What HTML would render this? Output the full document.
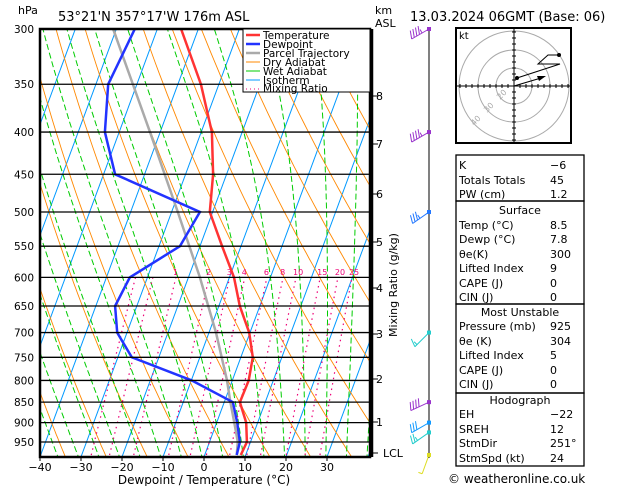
<!DOCTYPE html>
<html><head><meta charset="utf-8"><style>
body{margin:0;background:#fff;}
svg text{font-family:"DejaVu Sans","Liberation Sans",sans-serif;}
</style></head><body>
<svg id="c" width="629" height="486" viewBox="0 0 629 486" xmlns="http://www.w3.org/2000/svg">
<defs><clipPath id="clip"><rect x="40" y="29" width="330" height="428"/></clipPath></defs>
<g id="bg" clip-path="url(#clip)"></g>
<g id="prof" clip-path="url(#clip)"></g>
<g id="ax"></g>
<text x="18" y="14" font-size="11">hPa</text>
<text x="58" y="21" font-size="13">53°21'N  357°17'W  176m  ASL</text>
<text x="375" y="14" font-size="11">km</text>
<text x="375" y="27" font-size="11">ASL</text>
<text x="410" y="21" font-size="13">13.03.2024  06GMT  (Base: 06)</text>
<g>
<rect x="243" y="29" width="127" height="63" fill="#fff" stroke="#000"/>
<g font-size="10.5">
<line x1="246" y1="35" x2="260" y2="35" stroke="#f33" stroke-width="2.5"/><text x="263" y="39">Temperature</text>
<line x1="246" y1="44" x2="260" y2="44" stroke="#23f" stroke-width="2.5"/><text x="263" y="48">Dewpoint</text>
<line x1="246" y1="53" x2="260" y2="53" stroke="#aaa" stroke-width="2.5"/><text x="263" y="57">Parcel Trajectory</text>
<line x1="246" y1="62" x2="260" y2="62" stroke="#f80" stroke-width="1"/><text x="263" y="66">Dry Adiabat</text>
<line x1="246" y1="71" x2="260" y2="71" stroke="#0c0" stroke-width="1"/><text x="263" y="75">Wet Adiabat</text>
<line x1="246" y1="80" x2="260" y2="80" stroke="#09f" stroke-width="1"/><text x="263" y="84">Isotherm</text>
<line x1="246" y1="89" x2="260" y2="89" stroke="#e07" stroke-width="1" stroke-dasharray="1,3"/><text x="263" y="92">Mixing Ratio</text>
</g></g>
<g id="right"></g>
<g id="wind"></g>
<g id="hodo"></g>
<g id="tbl" font-size="11"></g>
<text x="448" y="483" font-size="12">© weatheronline.co.uk</text>
</svg>
<script>
const pressures=[300,350,400,450,500,550,600,650,700,750,800,850,900,950,985];
const tempC=[-44.2,-34.4,-27.4,-23.3,-20.7,-14.6,-8.9,-4.9,-0.2,2.9,4.0,3.8,7.2,9.1,8.8];
const dewC=[-55.5,-57,-53.5,-47.2,-23.1,-24.9,-34.3,-35.3,-32.4,-26.6,-9.9,2.1,5.0,7.4,7.8];
const parcelP=[300,400,500,600,700,800,850,900,950,985];
const parcelC=[-60.8,-42.5,-28.5,-17.2,-8.3,-1.3,1.5,4.3,6.9,7.8];
const tempTicks=[-40,-30,-20,-10,0,10,20,30];
const pTicks=[300,350,400,450,500,550,600,650,700,750,800,850,900,950];
const mixRatios=[0.4,0.6,1,2,3,4,6,8,10,15,20,25];
const mixLabels=["","","1","2","3","4","6","8","10","15","20","25"];
const kmVals=["8","7","6","5","4","3","2","1","LCL"];
const kmY=[96,144,194,242,288,334,379,422,453];
const windP=[300,400,500,700,850,900,925,985];
const windSpd=[45,45,35,15,40,30,25,5];
const windDir=[240,240,235,225,245,240,235,200];
const windCol=["#93c","#93c","#27f","#2cc","#93c","#19f","#2cc","#dd2"];
const NS='http://www.w3.org/2000/svg';
function mk(tag,attrs,parent){const e=document.createElementNS(NS,tag);for(const k in attrs)e.setAttribute(k,attrs[k]);parent.appendChild(e);return e;}
const yP=p=>29+358.3*Math.log(p/300);
const xT=(T,p)=>204+4.1*T+0.37*(457-yP(p));
const bg=document.getElementById('bg'),prof=document.getElementById('prof'),ax=document.getElementById('ax');
function poly(pts,attrs,parent,name){const e=mk('polyline',Object.assign({points:pts.map(q=>q[0].toFixed(1)+','+q[1].toFixed(1)).join(' '),fill:'none'},attrs),parent);

return e;}
for(let T=-120;T<=40;T+=10){poly([[xT(T,1000),yP(1000)],[xT(T,250),yP(250)]],{stroke:'#09f','stroke-width':1},bg,'isotherm');}
for(let th=230;th<=500;th+=10){const pts=[];for(let p=1000;p>=290;p-=10){const T=th*Math.pow(p/1000,0.286)-273.15;pts.push([xT(T,p),yP(p)]);}poly(pts,{stroke:'#f80','stroke-width':0.9},bg,'dry-adiabat');}
function rs(T,p){const es=6.112*Math.exp(17.67*T/(T+243.5));return 0.622*es/(p-es);}
for(let T0=-40;T0<=45;T0+=5){let T=T0,pts=[];for(let p=1000;p>=290;p-=5){pts.push([xT(T,p),yP(p)]);const Tk=T+273.15,r=rs(T,p);const dTdp=(287*Tk+2.5e6*r)/(1004+2.5e6*2.5e6*r*0.622/(287*Tk*Tk))/p;T-=dTdp*5;}poly(pts,{stroke:'#0c0','stroke-width':1,'stroke-dasharray':'6,3'},bg,'wet-adiabat');}
mixRatios.forEach((w,i)=>{const pts=[];for(let p=1000;p>=600;p-=20){const e=w*p/(622+w),l=Math.log(e/6.112);const Td=243.5*l/(17.67-l);pts.push([xT(Td,p),yP(p)]);}poly(pts,{stroke:'#e07','stroke-width':1.2,'stroke-dasharray':'1.5,4'},bg,'mixing-ratio-line');
if(mixLabels[i]){const l=Math.log((w*600/(622+w))/6.112);const t=mk('text',{x:xT(243.5*l/(17.67-l),600)-3,y:275,'font-size':8,fill:'#e07'},bg);t.textContent=mixLabels[i];

}});
pTicks.forEach(p=>{const l=mk('line',{x1:40,x2:370,y1:yP(p),y2:yP(p),stroke:'#000','stroke-width':1.3},ax);


const t=mk('text',{x:34,y:yP(p)+4,'font-size':10.5,'text-anchor':'end'},ax);t.textContent=p;

});
poly(parcelP.map((p,i)=>[xT(parcelC[i],p),yP(p)]),{stroke:'#aaa','stroke-width':2.5},prof,'parcel-trajectory');
poly(pressures.map((p,i)=>[xT(dewC[i],p),yP(p)]),{stroke:'#23f','stroke-width':2.5},prof,'dewpoint-line');
poly(pressures.map((p,i)=>[xT(tempC[i],p),yP(p)]),{stroke:'#f33','stroke-width':2.5},prof,'temperature-line');
const fr=mk('rect',{x:40,y:29,width:330,height:428,fill:'none',stroke:'#000','stroke-width':2.5},ax);


tempTicks.forEach(T=>{const x=204+4.1*T;mk('line',{x1:x,x2:x,y1:457,y2:461,stroke:'#000'},ax);const t=mk('text',{x:x,y:471,'font-size':11,'text-anchor':'middle'},ax);t.textContent=T<0?'\u2212'+(-T):T;

});
const xt=mk('text',{x:204,y:484,'font-size':12,'text-anchor':'middle'},ax);xt.textContent='Dewpoint / Temperature (°C)';


const R=document.getElementById('right');
mk('line',{x1:372,x2:372,y1:29,y2:457,stroke:'#000','stroke-width':2.5},R);
kmVals.forEach((k,i)=>{mk('line',{x1:372,x2:378,y1:kmY[i],y2:kmY[i],stroke:'#000'},R);const t=mk('text',{x:k==='LCL'?383:376,y:kmY[i]+4,'font-size':11},R);t.textContent=k;

});
const mr=mk('text',{x:397,y:285,'font-size':11,'text-anchor':'middle',transform:'rotate(-90 397 285)'},R);mr.textContent='Mixing Ratio (g/kg)';


const W=document.getElementById('wind');
mk('line',{x1:429,x2:429,y1:29,y2:458,stroke:'#000'},W);
windP.forEach((p,i)=>{const y=Math.min(yP(p),458),x=429,c=windCol[i];const g=mk('g',{},W);


mk('rect',{x:x-2,y:y-2,width:4,height:4,fill:c},g);
const a=(windDir[i])*Math.PI/180,L=20;const dx=Math.sin(a),dy=-Math.cos(a);
const ex=x+dx*L,ey=y+dy*L;mk('line',{x1:x,y1:y,x2:ex,y2:ey,stroke:c},g);
let s=windSpd[i],pos=0;const nx=-dy,ny=dx;
while(s>=10){const bx=ex-dx*pos,by=ey-dy*pos;mk('line',{x1:bx,y1:by,x2:bx+nx*8-dx*3,y2:by+ny*8-dy*3,stroke:c},g);s-=10;pos+=3;}
if(s>=5){const bx=ex-dx*pos,by=ey-dy*pos;mk('line',{x1:bx,y1:by,x2:bx+nx*4,y2:by+ny*4,stroke:c},g);}});
const H=document.getElementById('hodo');
mk('rect',{x:456,y:28,width:115,height:115,fill:'#fff',stroke:'#000','stroke-width':2},H);
[18,36,55].forEach(r=>mk('circle',{cx:514,cy:86,r:r,fill:'none',stroke:'#aaa'},H));
mk('line',{x1:456,x2:571,y1:86,y2:86,stroke:'#000'},H);mk('line',{x1:514,x2:514,y1:28,y2:143,stroke:'#000'},H);
for(let k=-9;k<=9;k++){if(!k)continue;mk('line',{x1:514+k*6,x2:514+k*6,y1:84,y2:88,stroke:'#000'},H);mk('line',{y1:86+k*6,y2:86+k*6,x1:512,x2:516,stroke:'#000'},H);}
const kt=mk('text',{x:459,y:39,'font-size':10},H);kt.textContent='kt';
[['20',500,100],['30',487,113],['40',474,126]].forEach(a=>{const t=mk('text',{x:a[1],y:a[2],'font-size':8,fill:'#aaa',transform:`rotate(-45 ${a[1]} ${a[2]})`},H);t.textContent=a[0];});
mk('polyline',{points:'559,55 548,55 538,64 560,64 517,78',fill:'none',stroke:'#000'},H);
mk('circle',{cx:559,cy:55,r:2,fill:'#000'},H);mk('circle',{cx:517,cy:78,r:2,fill:'#000'},H);
mk('line',{x1:514,y1:86,x2:541,y2:78,stroke:'#000'},H);mk('polygon',{points:'546,76 537,76 539,81',fill:'#000'},H);
const T=document.getElementById('tbl');
const boxes=[[155,201],[201,304],[304,393],[393,466]];
boxes.forEach(b=>mk('rect',{x:456,y:b[0],width:128,height:b[1]-b[0],fill:'none',stroke:'#000','stroke-width':1.3},T));
const rows=[['K','−6',166],['Totals Totals','45',181],['PW (cm)','1.2',195],
['#Surface','',211],['Temp (°C)','8.5',226],['Dewp (°C)','7.8',240],['θe(K)','300',255],['Lifted Index','9',269],['CAPE (J)','0',284],['CIN (J)','0',298],
['#Most Unstable','',313],['Pressure (mb)','925',327],['θe (K)','304',342],['Lifted Index','5',356],['CAPE (J)','0',371],['CIN (J)','0',385],
['#Hodograph','',401],['EH','−22',415],['SREH','12',430],['StmDir','251°',444],['StmSpd (kt)','24',459]];
rows.forEach(r=>{if(r[0][0]==='#'){const t=mk('text',{x:520,y:r[2]+3,'text-anchor':'middle'},T);t.textContent=r[0].slice(1);

}
else{const t=mk('text',{x:459,y:r[2]+3},T);t.textContent=r[0];


const v=mk('text',{x:550,y:r[2]+3},T);v.textContent=r[1];

}});
</script>
</body></html>
